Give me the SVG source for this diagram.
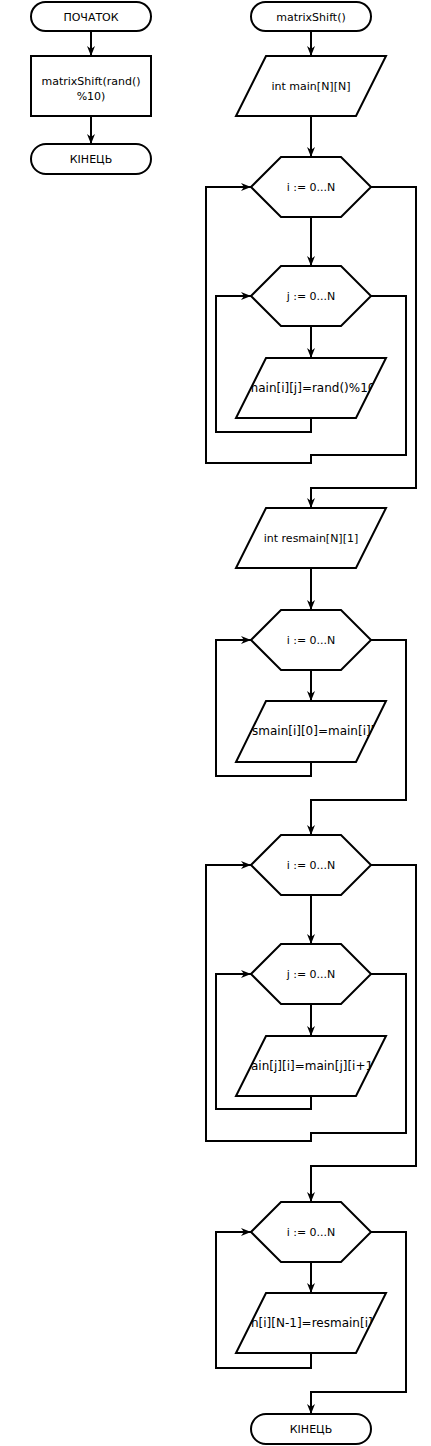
<svg xmlns="http://www.w3.org/2000/svg" width="431" height="1446" viewBox="0 0 431 1446">
<style>
.s{fill:#fff;stroke:#000;stroke-width:2}
.t{font-family:"DejaVu Sans",sans-serif;font-size:11px;fill:#000;text-anchor:middle}
.ts{font-family:"DejaVu Sans",sans-serif;font-size:12px;fill:#000}
.c{fill:none;stroke:#000;stroke-width:2;marker-end:url(#a)}
</style>
<defs>
<marker id="a" markerUnits="userSpaceOnUse" markerWidth="11" markerHeight="9" refX="10" refY="4.5" orient="auto">
<path d="M0,0.5 L10,4.5 L0,8.5 L3,4.5 z" fill="#000"/>
</marker>
<clipPath id="c1"><polygon points="266,358 386,358 356,418 236,418"/></clipPath>
<clipPath id="c2"><polygon points="266,701 386,701 356,762 236,762"/></clipPath>
<clipPath id="c3"><polygon points="266,1036 386,1036 356,1096 236,1096"/></clipPath>
<clipPath id="c4"><polygon points="266,1293 386,1293 356,1353 236,1353"/></clipPath>
</defs>
<g id="connectors">
<path class="c" d="M91,31 V56"/>
<path class="c" d="M91,116 V144"/>
<path class="c" d="M311,31 V56"/>
<path class="c" d="M311,116 V157"/>
<path class="c" d="M311,217 V266"/>
<path class="c" d="M311,326 V358"/>
<path class="c" d="M311,418 V432 H216 V296 H251"/>
<path class="c" d="M371,296 H406 V455 H311 V463 H206 V187 H251"/>
<path class="c" d="M371,187 H416 V488 H311 V508"/>
<path class="c" d="M311,568 V610"/>
<path class="c" d="M311,670 V701"/>
<path class="c" d="M311,762 V776 H216 V640 H251"/>
<path class="c" d="M371,640 H406 V800 H311 V835"/>
<path class="c" d="M311,896 V944"/>
<path class="c" d="M311,1004 V1036"/>
<path class="c" d="M311,1096 V1109 H216 V974 H251"/>
<path class="c" d="M371,974 H406 V1133 H311 V1141 H206 V865 H251"/>
<path class="c" d="M371,865 H416 V1166 H311 V1202"/>
<path class="c" d="M311,1262 V1293"/>
<path class="c" d="M311,1353 V1368 H216 V1232 H251"/>
<path class="c" d="M371,1232 H406 V1392 H311 V1414"/>
</g>
<g id="start1"><rect class="s" x="31" y="2" width="120" height="29" rx="14.5"/><text class="t" x="91" y="21">ПОЧАТОК</text></g>
<g id="call"><rect class="s" x="31" y="56" width="120" height="60"/><text class="t" x="91" y="85">matrixShift(rand()</text><text class="t" x="91" y="100">%10)</text></g>
<g id="end1"><rect class="s" x="31" y="144" width="120" height="30" rx="15"/><text class="t" x="91" y="163">КІНЕЦЬ</text></g>
<g id="start2"><rect class="s" x="251" y="2" width="120" height="29" rx="14.5"/><text class="t" x="311" y="21">matrixShift()</text></g>
<g id="decl1"><polygon class="s" points="266,56 386,56 356,116 236,116"/><text class="t" x="311" y="90">int main[N][N]</text></g>
<g id="loop1"><polygon class="s" points="251,187 281,157 341,157 371,187 341,217 281,217"/><text class="t" x="311" y="191">i := 0...N</text></g>
<g id="loop2"><polygon class="s" points="251,296 281,266 341,266 371,296 341,326 281,326"/><text class="t" x="311" y="300">j := 0...N</text></g>
<g id="io1"><polygon class="s" points="266,358 386,358 356,418 236,418"/><text class="ts" x="311" y="392" text-anchor="middle" clip-path="url(#c1)">main[i][j]=rand()%10</text></g>
<g id="decl2"><polygon class="s" points="266,508 386,508 356,568 236,568"/><text class="t" x="311" y="542">int resmain[N][1]</text></g>
<g id="loop3"><polygon class="s" points="251,640 281,610 341,610 371,640 341,670 281,670"/><text class="t" x="311" y="644">i := 0...N</text></g>
<g id="io2"><polygon class="s" points="266,701 386,701 356,762 236,762"/><text class="ts" x="252" y="735" clip-path="url(#c2)">smain[i][0]=main[i][</text></g>
<g id="loop4"><polygon class="s" points="251,865 281,835 341,835 371,865 341,895 281,895"/><text class="t" x="311" y="869">i := 0...N</text></g>
<g id="loop5"><polygon class="s" points="251,974 281,944 341,944 371,974 341,1004 281,1004"/><text class="t" x="311" y="978">j := 0...N</text></g>
<g id="io3"><polygon class="s" points="266,1036 386,1036 356,1096 236,1096"/><text class="ts" x="251" y="1070" clip-path="url(#c3)">ain[j][i]=main[j][i+1</text></g>
<g id="loop6"><polygon class="s" points="251,1232 281,1202 341,1202 371,1232 341,1262 281,1262"/><text class="t" x="311" y="1236">i := 0...N</text></g>
<g id="io4"><polygon class="s" points="266,1293 386,1293 356,1353 236,1353"/><text class="ts" x="251" y="1327" clip-path="url(#c4)">n[i][N-1]=resmain[i]</text></g>
<g id="end2"><rect class="s" x="251" y="1414" width="120" height="30" rx="15"/><text class="t" x="311" y="1433">КІНЕЦЬ</text></g>
</svg>
